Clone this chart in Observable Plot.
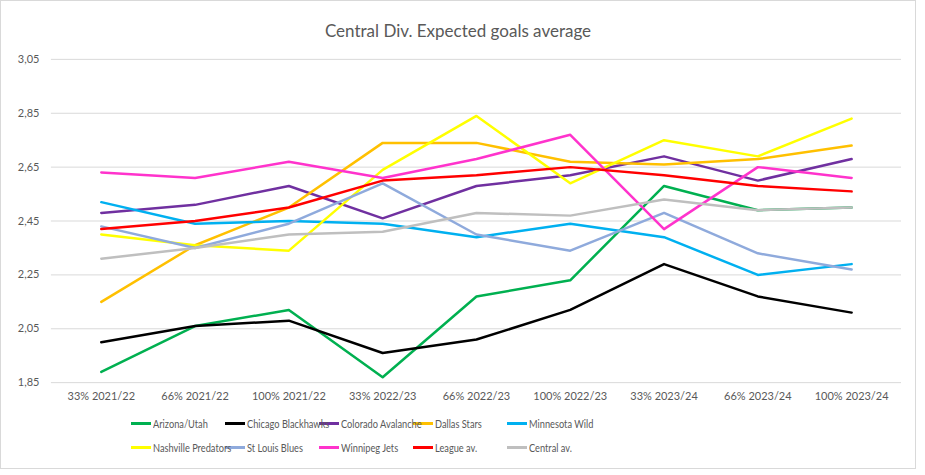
<!DOCTYPE html>
<html>
<head>
<meta charset="utf-8">
<script src="https://cdn.jsdelivr.net/npm/d3@7"></script>
<script src="https://cdn.jsdelivr.net/npm/@observablehq/plot@0.6"></script>
<style>
  html, body { margin: 0; padding: 0; background: #fff; }
  #frame { position: relative; width: 916px; height: 469px; border: 1px solid #d9d9d9; box-sizing: border-box; font-family: Lato, "Open Sans", sans-serif; overflow: hidden; }
  #title { position: absolute; top: 19px; left: 0; width: 100%; text-align: center; font-size: 17px; color: #595959; }
  #chart { position: absolute; top: 0; left: 0; }
  #legend { position: absolute; top: 414px; left: 130px; width: 480px; display: flex; flex-wrap: wrap; row-gap: 8px; }
  .item { width: 94px; height: 16px; display: flex; align-items: center; font-size: 11px; color: #595959; white-space: nowrap; }
  .sw { width: 20px; height: 3px; margin-right: 2px; flex: none; }
  .lbl { display: inline-block; transform: scaleX(0.84); transform-origin: left center; }
</style>
</head>
<body>
<div id="frame">
  <div id="chart"></div>
  <div id="title">Central Div. Expected goals average</div>
  <div id="legend"></div>
</div>
<script>
const categories = ["33% 2021/22", "66% 2021/22", "100% 2021/22", "33% 2022/23", "66% 2022/23", "100% 2022/23", "33% 2023/24", "66% 2023/24", "100% 2023/24"];
const seriesNames = ["Arizona/Utah", "Chicago Blackhawks", "Colorado Avalanche", "Dallas Stars", "Minnesota Wild", "Nashville Predators", "St Louis Blues", "Winnipeg Jets", "League av.", "Central av."];
const seriesColors = ["#00b050", "#000000", "#7030a0", "#ffc000", "#00b0f0", "#ffff00", "#8faadc", "#ff33cc", "#ff0000", "#bfbfbf"];
const yTicks = [1.85, 2.05, 2.25, 2.45, 2.65, 2.85, 3.05];

const arizona   = [1.89, 2.06, 2.12, 1.87, 2.17, 2.23, 2.58, 2.49, 2.50];
const chicago   = [2.00, 2.06, 2.08, 1.96, 2.01, 2.12, 2.29, 2.17, 2.11];
const colorado  = [2.48, 2.51, 2.58, 2.46, 2.58, 2.62, 2.69, 2.60, 2.68];
const dallas    = [2.15, 2.36, 2.50, 2.74, 2.74, 2.67, 2.66, 2.68, 2.73];
const minnesota = [2.52, 2.44, 2.45, 2.44, 2.39, 2.44, 2.39, 2.25, 2.29];
const nashville = [2.40, 2.36, 2.34, 2.64, 2.84, 2.59, 2.75, 2.69, 2.83];
const stlouis   = [2.43, 2.35, 2.44, 2.59, 2.40, 2.34, 2.48, 2.33, 2.27];
const winnipeg  = [2.63, 2.61, 2.67, 2.61, 2.68, 2.77, 2.42, 2.65, 2.61];
const league    = [2.42, 2.45, 2.50, 2.60, 2.62, 2.65, 2.62, 2.58, 2.56];
const central   = [2.31, 2.35, 2.40, 2.41, 2.48, 2.47, 2.53, 2.49, 2.50];

const seriesValues = [arizona, chicago, colorado, dallas, minnesota, nashville, stlouis, winnipeg, league, central];

const data = [];
seriesNames.forEach((name, i) => {
  seriesValues[i].forEach((v, j) => data.push({series: name, cat: categories[j], value: v}));
});

const fmt = d => d.toFixed(2).replace(".", ",");

const plot = Plot.plot({
  width: 916,
  height: 410,
  marginTop: 58,
  marginBottom: 28,
  marginLeft: 50,
  marginRight: 14,
  style: { fontFamily: "Lato, 'Open Sans', sans-serif", fontSize: "11px", color: "#595959", background: "transparent" },
  x: { type: "point", domain: categories, padding: 0.5, label: null },
  y: { domain: [1.85, 3.05], label: null },
  color: { domain: seriesNames, range: seriesColors },
  marks: [
    Plot.ruleY(yTicks, { stroke: "#d9d9d9", strokeWidth: 1 }),
    Plot.axisY({ ticks: yTicks, tickFormat: fmt, tickSize: 0, tickPadding: 12, label: null, fill: "#595959" }),
    Plot.axisX({ tickSize: 0, tickPadding: 10, label: null, fill: "#595959" }),
    Plot.line(data, { x: "cat", y: "value", z: "series", stroke: "series", strokeWidth: 2.5, strokeLinejoin: "round", strokeLinecap: "round" })
  ]
});
document.getElementById("chart").appendChild(plot);

const legend = document.getElementById("legend");
seriesNames.forEach((name, i) => {
  const it = document.createElement("div");
  it.className = "item";
  const sw = document.createElement("span");
  sw.className = "sw";
  sw.style.background = seriesColors[i];
  it.appendChild(sw);
  const lb = document.createElement("span");
  lb.className = "lbl";
  lb.textContent = name;
  it.appendChild(lb);
  legend.appendChild(it);
});
</script>
</body>
</html>
